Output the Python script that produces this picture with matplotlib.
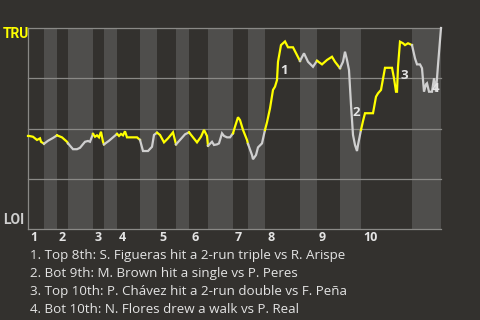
import numpy as np
import matplotlib
matplotlib.use("Agg")
import matplotlib.pyplot as plt

# ---------------- data ----------------
home_team = "LOI"
away_team = "TRU"

# half-inning boundaries on the event axis (top 1, bot 1, top 2, ...)
half_edges = [0, 16, 29, 40, 65, 76, 89, 112, 129, 148, 161, 180, 205, 220,
              237, 272, 289, 312, 333, 384, 413]
inning_labels = ["1", "2", "3", "4", "5", "6", "7", "8", "9", "10"]

# event position and away-team (TRU) win probability in %
event_x = [1, 5, 9, 12, 13, 16,
           20, 25, 29,
           34, 39, 40,
           45, 49, 52, 57, 60, 62, 65,
           67, 69, 71, 73, 75, 76,
           81, 85, 89,
           91, 93, 95, 97, 99, 104, 109, 112,
           115, 120, 124, 126, 129,
           132, 136, 140, 145, 148,
           152, 157, 161,
           165, 169, 173, 176, 179, 180,
           184, 186, 189, 191, 194, 196, 199, 202, 205,
           207, 210, 212, 215, 219, 220,
           224, 225, 228, 230, 234, 237,
           239, 242, 245, 247, 249, 250, 253, 257, 260, 265, 272,
           276, 280, 285, 289,
           294, 299, 304, 307, 312,
           315, 317, 319, 321, 323, 325, 327, 329, 330, 333,
           335, 337, 345, 348, 350, 353, 357, 364, 366, 368, 369, 370, 372,
           375, 377, 380, 384,
           387, 389, 392, 394, 396, 398, 399, 401, 404, 406, 408, 410, 413]
wp_away = [46.3, 45.9, 44.3, 45.1, 43.4, 42.4,
           43.9, 45.3, 46.6,
           45.6, 43.4, 42.6,
           39.7, 39.7, 40.4, 43.4, 43.8, 43.4, 47.3,
           45.9, 46.6, 45.6, 48.4, 43.4, 42.1,
           43.9, 45.6, 47.3,
           46.3, 47.3, 46.6, 48.6, 45.6, 45.6, 45.6, 44.3,
           38.8, 38.8, 40.9, 46.8, 47.9,
           46.8, 43.1, 45.1, 48.1, 42.1,
           44.3, 47.1, 48.1,
           45.6, 43.1, 45.9, 49.3, 46.3, 41.4,
           43.4, 41.8, 42.1, 42.6, 47.6, 46.3, 45.6, 45.6, 47.6,
           50.9, 55.6, 54.2, 49.3, 44.3, 42.3,
           36.8, 34.7, 36.8, 40.6, 42.6, 49.3,
           53.1, 60.0, 69.2, 70.8, 74.1, 83.2, 91.5, 93.3, 90.4, 90.4, 83.6,
           87.4, 83.2, 80.7, 83.7,
           81.9, 84.1, 85.7, 83.2, 80.0,
           83.2, 88.2, 84.1, 79.1, 61.7, 46.8, 41.8, 38.8, 41.8, 49.3,
           53.7, 57.6, 57.6, 65.8, 67.5, 69.2, 80.2, 80.2, 75.0, 68.3, 68.3, 80.7, 93.2,
           92.4, 91.5, 92.4, 91.5,
           84.9, 81.9, 81.9, 80.0, 68.3, 72.0, 72.5, 68.3, 68.3, 75.0, 68.3, 81.6, 100.0]

# key plays: label, event position, win prob (for label placement)
key_labels = ["1", "2", "3", "4"]
key_x = [256, 328.5, 376, 408]
key_wp = [79.1, 58.2, 76.6, 69.9]
key_texts = [
    "1. Top 8th: S. Figueras hit a 2-run triple vs R. Arispe",
    "2. Bot 9th: M. Brown hit a single vs P. Peres",
    "3. Top 10th: P. Chávez hit a 2-run double vs F. Peña",
    "4. Bot 10th: N. Flores drew a walk vs P. Real",
]

# ---------------- style ----------------
BG = "#33312e"
BAND = "#4f4e4c"
GRID = "#8a8986"
AWAY_C = "#ffff00"
HOME_C = "#cfcfcf"
TXT = "#e4e4e4"
FONT = ["Open Sans", "DejaVu Sans"]
NARROW = ["Liberation Sans Narrow", "Roboto", "DejaVu Sans"]

fig = plt.figure(figsize=(4.8, 3.2), dpi=100, facecolor=BG)
ax = fig.add_axes([28 / 480, 1 - 229 / 320, 413 / 480, 201 / 320])
ax.set_facecolor(BG)
ax.set_xlim(half_edges[0], half_edges[-1])
ax.set_ylim(0, 100)
for s in ax.spines.values():
    s.set_visible(False)
ax.set_xticks([])
ax.set_yticks([])

# bottom-half bands
for i in range(1, len(half_edges) - 1, 2):
    ax.axvspan(half_edges[i], half_edges[i + 1], color=BAND, lw=0, zorder=0)

# gridlines
for g in [0, 25, 50, 75, 100]:
    ax.axhline(g, color=GRID, lw=0.9, zorder=1, clip_on=False)
ax.axvline(half_edges[0], color=GRID, lw=0.9, zorder=1, clip_on=False)

# line, coloured by half inning
ex = np.array(event_x, float)
wp = np.array(wp_away, float)
for i in range(len(half_edges) - 1):
    a, b = half_edges[i], half_edges[i + 1]
    m = (ex > a) & (ex < b)
    xs = np.concatenate([[a], ex[m], [b]])
    ys = np.concatenate([[np.interp(a, ex, wp)], wp[m], [np.interp(b, ex, wp)]])
    ax.plot(xs, ys, color=AWAY_C if i % 2 == 0 else HOME_C, lw=1.6,
            solid_joinstyle="miter", zorder=3, clip_on=False)

# key play labels
for lab, x, y in zip(key_labels, key_x, key_wp):
    ax.text(x, y, lab, color=TXT, fontsize=9.5, fontweight="bold",
            ha="center", va="center", family=FONT, zorder=4)

# inning labels
trans = ax.get_xaxis_transform()
for k, lab in enumerate(inning_labels):
    ax.text(half_edges[2 * k] + 2, -0.012, lab, transform=trans, color=TXT,
            fontsize=9, fontweight="bold", ha="left", va="top", family=FONT)

# team labels
fig.text(3 / 480, 1 - 34 / 320, away_team, color=AWAY_C, fontsize=10,
         fontweight="bold", ha="left", va="center", family=NARROW)
fig.text(3 / 480, 1 - 220 / 320, home_team, color=HOME_C, fontsize=10,
         fontweight="bold", ha="left", va="center", family=NARROW)

# key play descriptions
for k, t in enumerate(key_texts):
    fig.text(30 / 480, 1 - (259 + 18 * k) / 320, t, color=TXT, fontsize=9.6,
             ha="left", va="baseline", family=FONT)

fig.savefig("out.png", dpi=100, facecolor=BG)
